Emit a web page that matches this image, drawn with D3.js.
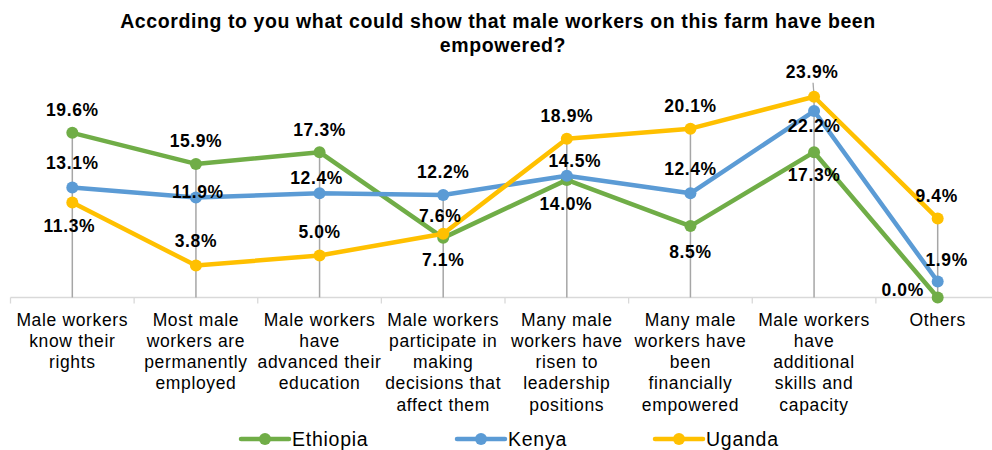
<!DOCTYPE html>
<html>
<head>
<meta charset="utf-8">
<script src="https://cdn.jsdelivr.net/npm/d3@7"></script>
<style>
  html, body { margin: 0; padding: 0; background: #fff; }
  svg { display: block; font-family: "Liberation Sans", Arial, sans-serif; }
</style>
</head>
<body>
<svg id="chart" width="992" height="450"></svg>
<script>
// Survey responses, percent of respondents per country
const categories = [
  "Male workers\nknow their\nrights",
  "Most male\nworkers are\npermanently\nemployed",
  "Male workers\nhave\nadvanced their\neducation",
  "Male workers\nparticipate in\nmaking\ndecisions that\naffect them",
  "Many male\nworkers have\nrisen to\nleadership\npositions",
  "Many male\nworkers have\nbeen\nfinancially\nempowered",
  "Male workers\nhave\nadditional\nskills and\ncapacity",
  "Others"
];
const ethiopia = [19.6, 15.9, 17.3, 7.1, 14.0, 8.5, 17.3, 0.0];
const kenya    = [13.1, 11.9, 12.4, 12.2, 14.5, 12.4, 22.2, 1.9];
const uganda   = [11.3, 3.8, 5.0, 7.6, 18.9, 20.1, 23.9, 9.4];
const seriesNames = ["Ethiopia", "Kenya", "Uganda"];
const titleLines = [
  "According to you what could show that male workers on this farm have been",
  "empowered?"
];

// Data-label placement (offset of label centre from its point), per series
const labelNudge = {
  Ethiopia: [[0,-23],[0,-23],[0,-23],[0,22],[-1,24],[0,25],[0,22],[-35,-8]],
  Kenya:    [[0,-25],[2,-6],[-3,-16],[0,-24],[8,-15],[0,-25],[0,14],[9,-22]],
  Uganda:   [[-3,23],[0,-25],[0,-24],[-3,-18],[0,-23],[0,-23],[-2,-25],[-1,-23]]
};
const leaderLabels = [["Uganda", 6]];

const colors = { Ethiopia: "#70AD47", Kenya: "#5B9BD5", Uganda: "#FFC000" };
const series = [
  { name: "Ethiopia", values: ethiopia },
  { name: "Kenya", values: kenya },
  { name: "Uganda", values: uganda }
];

const svg = d3.select("#chart");

const x = d3.scalePoint().domain(categories).range([10.5, 999.5]).padding(0.5);
const step = x.step();
const y = d3.scaleLinear().domain([0, 30]).range([297.5, 45.5]);

// Title
svg.append("g").selectAll("text").data(titleLines).join("text")
  .attr("x", (d, i) => i === 0 ? 498 : 503)
  .attr("y", (d, i) => 28 + i * 23.5)
  .attr("text-anchor", "middle")
  .attr("font-size", 19.5)
  .attr("letter-spacing", 0.6)
  .attr("font-weight", "bold")
  .attr("fill", "#000")
  .text(d => d);

// Category axis
const axisY = y(0);
const axis = svg.append("g");
axis.append("line")
  .attr("x1", 10.5).attr("x2", 992)
  .attr("y1", axisY).attr("y2", axisY)
  .attr("stroke", "#D9D9D9").attr("stroke-width", 1.3);
axis.selectAll("line.tick").data(d3.range(categories.length + 1)).join("line")
  .attr("class", "tick")
  .attr("x1", i => 10.5 + i * step).attr("x2", i => 10.5 + i * step)
  .attr("y1", axisY).attr("y2", axisY + 6)
  .attr("stroke", "#D9D9D9").attr("stroke-width", 1.3);

const catLabels = axis.selectAll("text.cat").data(categories).join("text")
  .attr("class", "cat")
  .attr("text-anchor", "middle")
  .attr("font-size", 17.5)
  .attr("letter-spacing", 0.65)
  .attr("fill", "#000");
catLabels.each(function(d) {
  const t = d3.select(this);
  d.split("\n").forEach((line, i) => {
    t.append("tspan")
      .attr("x", x(d))
      .attr("y", 325.5 + i * 21.25)
      .text(line);
  });
});

// Drop lines from the highest point of each category down to the axis
const maxVals = categories.map((c, i) => d3.max(series, s => s.values[i]));
svg.append("g").selectAll("line").data(categories).join("line")
  .attr("x1", d => x(d)).attr("x2", d => x(d))
  .attr("y1", (d, i) => y(maxVals[i]))
  .attr("y2", axisY)
  .attr("stroke", "#A6A6A6").attr("stroke-width", 1.5);

// Leader lines for labels pulled away from their points
svg.append("g").selectAll("line").data(leaderLabels).join("line")
  .attr("x1", ([n, i]) => x(categories[i]) + labelNudge[n][i][0] + 1)
  .attr("y1", ([n, i]) => y(series.find(s => s.name === n).values[i]) + labelNudge[n][i][1] + 11)
  .attr("x2", ([n, i]) => x(categories[i]))
  .attr("y2", ([n, i]) => y(series.find(s => s.name === n).values[i]))
  .attr("stroke", "#A6A6A6").attr("stroke-width", 1.3);

// Series lines and markers
const line = d3.line()
  .x((d, i) => x(categories[i]))
  .y(d => y(d));

series.forEach(s => {
  const g = svg.append("g");
  g.append("path")
    .datum(s.values)
    .attr("d", line)
    .attr("fill", "none")
    .attr("stroke", colors[s.name])
    .attr("stroke-width", 4.5)
    .attr("stroke-linejoin", "round");
  g.selectAll("circle").data(s.values).join("circle")
    .attr("cx", (d, i) => x(categories[i]))
    .attr("cy", d => y(d))
    .attr("r", 6)
    .attr("fill", colors[s.name]);
});

// Data labels
series.forEach(s => {
  svg.append("g").selectAll("text").data(s.values).join("text")
    .attr("x", (d, i) => x(categories[i]) + labelNudge[s.name][i][0])
    .attr("y", (d, i) => y(d) + labelNudge[s.name][i][1] + 6.5)
    .attr("text-anchor", "middle")
    .attr("font-size", 17.5)
    .attr("letter-spacing", 0.6)
    .attr("font-weight", "bold")
    .attr("fill", "#000")
    .text(d => d.toFixed(1) + "%");
});

// Legend
const legendItems = [
  { name: "Ethiopia", x1: 241, x2: 289 },
  { name: "Kenya", x1: 457, x2: 505 },
  { name: "Uganda", x1: 655, x2: 703 }
];
const legendY = 439;
const lg = svg.append("g").selectAll("g").data(legendItems).join("g");
lg.append("line")
  .attr("x1", d => d.x1).attr("x2", d => d.x2)
  .attr("y1", legendY).attr("y2", legendY)
  .attr("stroke", d => colors[d.name]).attr("stroke-width", 4.5)
  .attr("stroke-linecap", "round");
lg.append("circle")
  .attr("cx", d => (d.x1 + d.x2) / 2).attr("cy", legendY).attr("r", 6)
  .attr("fill", d => colors[d.name]);
lg.append("text")
  .attr("x", d => d.x2 + 3)
  .attr("y", legendY + 7)
  .attr("font-size", 19.5)
  .attr("letter-spacing", 0.75)
  .attr("fill", "#000")
  .text(d => d.name);
</script>
</body>
</html>
